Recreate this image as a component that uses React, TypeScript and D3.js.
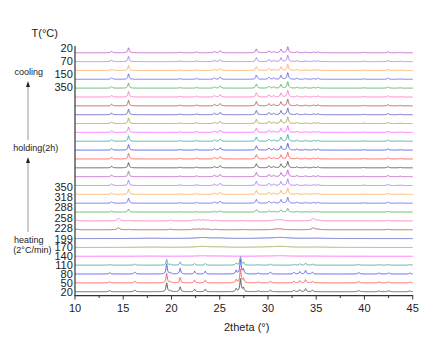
import React from 'react';
import * as d3 from 'd3';

// ---- data ----
const heatingLabels = ['20', '50', '80', '110', '140', '170', '199', '228', '258', '288', '318', '350'];
const coolingLabels = ['350', '150', '70', '20'];
const xTicks = [10, 15, 20, 25, 30, 35, 40, 45];
const xMinorTicks = [12.5, 17.5, 22.5, 27.5, 32.5, 37.5, 42.5];

// peaks: [2theta, intensity, half-width]
const lowPhasePeaks: [number, number, number][] = [
  [13.6, 1.2, 0.1], [16.2, 1.8, 0.1], [19.5, 10, 0.08], [19.9, 1.2, 0.08], [20.9, 5.5, 0.08],
  [22.4, 2.8, 0.08], [23.5, 2.8, 0.08], [26.7, 3.4, 0.08], [27.15, 14.5, 0.08], [27.45, 4.5, 0.08],
  [29.0, 0.9, 0.1], [30.25, 1.7, 0.1], [32.7, 1.7, 0.08], [33.3, 2.3, 0.08], [33.9, 3.4, 0.08],
  [34.6, 1.5, 0.1], [39.4, 1.3, 0.12], [41.5, 0.9, 0.1], [42.5, 1.1, 0.1], [44.7, 0.9, 0.1],
];
const meltPeaks: [number, number, number][] = [
  [17.8, 0.4, 1.5], [23.2, 1.1, 0.9], [25.0, 0.5, 0.8], [29.5, 0.3, 1.2], [31.3, 1.2, 1.0], [35.0, 0.4, 1.2],
];
const midPhasePeaks: [number, number, number][] = [
  [10.2, 0.8, 0.15], [14.5, 3.0, 0.15], [15.6, 0.5, 0.12], [19.9, 0.8, 0.15], [22.3, 1.0, 0.15],
  [22.8, 1.3, 0.15], [23.3, 1.3, 0.15], [23.8, 1.0, 0.15], [24.6, 0.7, 0.15], [27.4, 0.4, 0.2],
  [30.8, 1.0, 0.3], [31.3, 1.2, 0.3], [34.7, 2.8, 0.18], [35.2, 0.8, 0.2], [42.4, 0.6, 0.15],
];
const highPhasePeaks: [number, number, number][] = [
  [13.8, 1.8, 0.09], [15.55, 6.2, 0.08], [20.9, 0.8, 0.09], [22.6, 1.0, 0.09], [24.45, 1.6, 0.09],
  [25.05, 2.6, 0.09], [28.8, 4.8, 0.09], [30.1, 2.4, 0.09], [30.6, 1.5, 0.09], [31.35, 4.5, 0.09],
  [32.05, 7.5, 0.09], [33.0, 1.2, 0.09], [33.9, 0.9, 0.09], [34.7, 0.8, 0.1], [35.2, 1.1, 0.1],
  [39.9, 0.5, 0.1], [42.45, 1.4, 0.09], [43.7, 0.5, 0.1],
];

// bottom (index 0) to top: 12 heating, 12 holding, 4 cooling
const seriesPhase = [
  'low', 'low', 'low', 'low', 'melt', 'melt', 'melt', 'mid', 'mid', 'high', 'high', 'high',
  'high', 'high', 'high', 'high', 'high', 'high', 'high', 'high', 'high', 'high', 'high', 'high',
  'high', 'high', 'high', 'high',
];
const seriesScale = [
  1, 1.05, 1.15, 0.65, 0.5, 1, 1, 0.75, 1, 0.55, 0.9, 0.95,
  1, 1, 0.95, 1, 1, 1, 1, 1, 1, 1, 1, 0.95,
  1, 0.9, 0.95, 0.9,
];
const colorCycle = [
  '#5a5a5a', '#ff5c5c', '#5858f0', '#4fa8a8', '#ff66ff', '#a8a858', '#6262c8',
  '#b85c5c', '#ff7fbf', '#5cb85c', '#6f6fe8', '#ffae5c', '#b07ef0', '#c060cc',
];

const phasePeaks: Record<string, [number, number, number][]> = {
  low: lowPhasePeaks,
  melt: meltPeaks,
  mid: midPhasePeaks,
  high: highPhasePeaks,
};

const W = 431;
const H = 357;
const FONT = '"Liberation Sans", Arial, sans-serif';

export default function App() {
  const x = d3.scaleLinear().domain([10, 45]).range([75, 412.7]);
  const nLines = seriesPhase.length;
  const step = 10;
  const y = d3.scaleLinear().domain([0, (nLines - 1) * step]).range([291.7, 52.75]);

  const grid = d3.range(10, 45.0001, 0.02);
  const line = d3
    .line<[number, number]>()
    .x((d) => x(d[0]))
    .y((d) => d[1]);

  const paths = seriesPhase.map((ph, i) => {
    const peaks = phasePeaks[ph];
    const s = seriesScale[i];
    const pts: [number, number][] = grid.map((t) => {
      let v = 0;
      for (const [p, h, w] of peaks) {
        const u = (t - p) / w;
        v += h / (1 + u * u);
      }
      return [t, y(i * step + v * s)];
    });
    return { d: line(pts) as string, color: colorCycle[i % colorCycle.length] };
  });

  const heatLabelY = d3.scaleLinear().domain([0, 6, 11]).range([291.7, 238.6, 186.7]);
  const coolLabelY = d3.scaleLinear().domain([0, 3]).range([86.7, 48.3]);

  return (
    <svg width={W} height={H} style={{ position: 'absolute', left: 0, top: 0, background: '#fff' }}
      fontFamily={FONT}>
      <rect x={0} y={0} width={W} height={H} fill="#fff" />
      {paths.map((p, i) => (
        <path key={i} d={p.d} fill="none" stroke={p.color} strokeWidth={1} />
      ))}
      {/* axes */}
      <line x1={75} y1={46} x2={75} y2={295.7} stroke="#333" strokeWidth={1.2} />
      <line x1={74.5} y1={295.7} x2={413.2} y2={295.7} stroke="#333" strokeWidth={1.2} />
      {xTicks.map((t) => (
        <line key={'M' + t} x1={x(t)} x2={x(t)} y1={295.7} y2={299.5} stroke="#333" strokeWidth={1} />
      ))}
      {xMinorTicks.map((t) => (
        <line key={'m' + t} x1={x(t)} x2={x(t)} y1={295.7} y2={298} stroke="#333" strokeWidth={1} />
      ))}
      {xTicks.map((t) => (
        <text key={'t' + t} x={x(t)} y={308.3} fontSize={11} textAnchor="middle" dominantBaseline="central" fill="#222">
          {t}
        </text>
      ))}
      <text x={246.7} y={326.7} fontSize={11} textAnchor="middle" dominantBaseline="central" fill="#222">
        2theta (°)
      </text>
      {/* series labels */}
      <text x={31.5} y={33} fontSize={11} dominantBaseline="central" fill="#222">T(°C)</text>
      {heatingLabels.map((l, i) => (
        <text key={'h' + i} x={72.8} y={heatLabelY(i)} fontSize={11} textAnchor="end" dominantBaseline="central" fill="#222">
          {l}
        </text>
      ))}
      {coolingLabels.map((l, i) => (
        <text key={'c' + i} x={72.8} y={coolLabelY(i)} fontSize={11} textAnchor="end" dominantBaseline="central" fill="#222">
          {l}
        </text>
      ))}
      {/* annotations */}
      <text x={14.5} y={71.7} fontSize={9} dominantBaseline="central" fill="#222">cooling</text>
      <text x={13.3} y={148} fontSize={9} dominantBaseline="central" fill="#222">holding(2h)</text>
      <text x={14} y={240} fontSize={9} dominantBaseline="central" fill="#222">heating</text>
      <text x={13.3} y={249.5} fontSize={9} dominantBaseline="central" fill="#222">(2°C/min)</text>
      <line x1={28} x2={28} y1={86} y2={140} stroke="#999" strokeWidth={1} />
      <path d="M28,81 L26,87 L30,87 Z" fill="#222" />
      <line x1={28} x2={28} y1={162} y2={232} stroke="#999" strokeWidth={1} />
      <path d="M28,157 L26,163 L30,163 Z" fill="#222" />
    </svg>
  );
}
